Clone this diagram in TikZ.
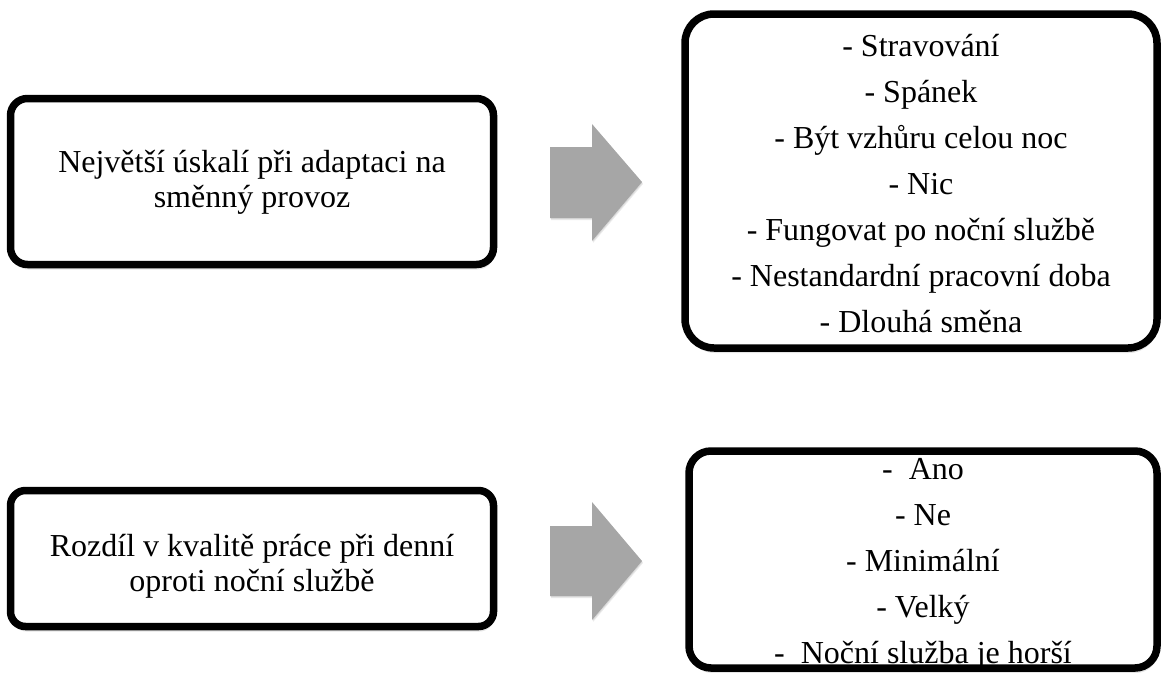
\documentclass[tikz,border=0pt]{standalone}
\usepackage{fontspec}
\setmainfont{Liberation Serif}
\usetikzlibrary{shadows}
\definecolor{arrowgray}{RGB}{166,166,166}
\tikzset{
  softshadow/.style={
    general shadow={shadow xshift=1pt, shadow yshift=-5pt, opacity=0.10, fill=black},
    general shadow={shadow xshift=1pt, shadow yshift=-3.5pt, opacity=0.12, fill=black},
    general shadow={shadow xshift=1pt, shadow yshift=-2pt, opacity=0.15, fill=black}},
  box/.style={draw=black, line width=7.5pt, fill=white, rounded corners=#1,
    softshadow, inner sep=0pt},
  txt/.style={font=\fontsize{32}{35}\selectfont, align=center, inner sep=0pt},
  listtxt/.style={font=\fontsize{32}{46}\selectfont, align=center, inner sep=0pt},
  blockarrow/.style={fill=arrowgray,
    general shadow={shadow xshift=1pt, shadow yshift=-2pt, opacity=0.08, fill=black},
    general shadow={shadow xshift=0.5pt, shadow yshift=-1pt, opacity=0.08, fill=black}}
}
\begin{document}
\begin{tikzpicture}[x=1pt, y=-1pt]
\useasboundingbox (0,0) rectangle (1161,672);
% top row
\node[box=17, minimum width=483pt, minimum height=166pt] (a) at (252,181.5) {};
\node[txt] (at) at (252,182) {Největší úskalí při adaptaci na\\směnný provoz};
\fill[blockarrow] (550,147) -- (592,147) -- (592,124) -- (642,182) -- (592,241) -- (592,218) -- (550,218) -- cycle;
\node[box=29, minimum width=472pt, minimum height=334pt] (b) at (921,181) {};
\node[listtxt] (bt) at (921,184) {- Stravování\\- Spánek\\- Být vzhůru celou noc\\- Nic\\- Fungovat po noční službě\\- Nestandardní pracovní doba\\- Dlouhá směna};
% bottom row
\node[box=15, minimum width=483pt, minimum height=136pt] (c) at (252,558.5) {};
\node[txt] (ct) at (252,566) {Rozdíl v kvalitě práce při denní\\oproti noční službě};
\fill[blockarrow] (550,526) -- (592,526) -- (592,502) -- (642,561) -- (592,620) -- (592,596) -- (550,596) -- cycle;
\node[box=22, minimum width=468pt, minimum height=217pt] (d) at (923,559.5) {};
\node[listtxt] (dt) at (923,564) {-~ Ano\\- Ne\\- Minimální\\- Velký\\-~ Noční služba je horší};
\end{tikzpicture}
\end{document}
